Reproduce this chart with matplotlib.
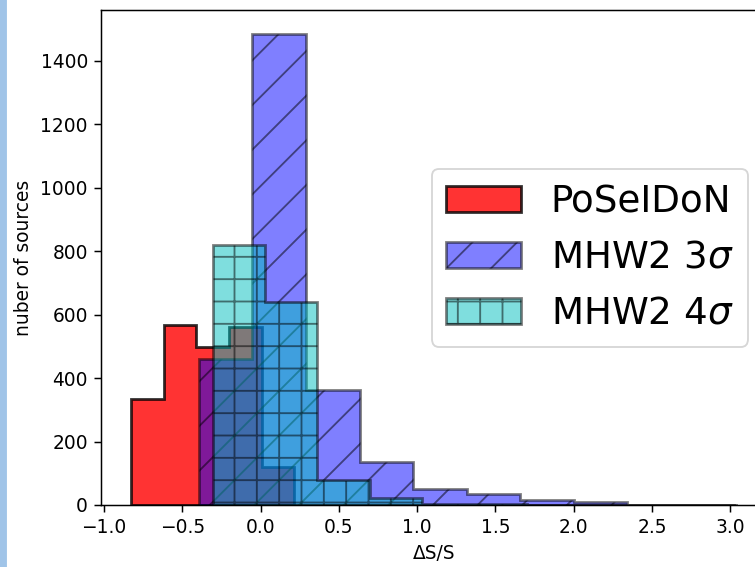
import numpy as np
import matplotlib
matplotlib.use("Agg")
import matplotlib.pyplot as plt
from matplotlib.patches import Rectangle

# bin edges and counts
poseidon_edges = [-0.825, -0.617, -0.409, -0.201, 0.007, 0.215]
poseidon_counts = [335, 568, 497, 560, 119]

mhw3_edges = [-0.394, -0.052, 0.290, 0.632, 0.974, 1.316, 1.658, 2.000, 2.342, 2.684, 3.026]
mhw3_counts = [460, 1485, 362, 137, 50, 35, 15, 11, 1, 1]

mhw4_edges = [-0.306, 0.029, 0.363, 0.698, 1.032, 1.367, 1.702, 2.036, 2.371, 2.705, 3.040]
mhw4_counts = [820, 641, 80, 21, 3, 2, 1, 1, 0, 1]

dpi = 134
fig = plt.figure(figsize=(755 / dpi, 567 / dpi), dpi=dpi)
ax = fig.add_axes([101 / 755, 62 / 567, 666 / 755, 495 / 567])

# light blue strip at the left border of the screenshot
fig.patches.append(Rectangle((0, 0), 6 / 755, 1, transform=fig.transFigure,
                             color='#a0c4e8', zorder=-1))

ax.hist(poseidon_edges[:-1], bins=poseidon_edges, weights=poseidon_counts,
        histtype='stepfilled', color='red', alpha=0.8, edgecolor='black',
        linewidth=1.5, label='PoSeIDoN')
ax.hist(mhw3_edges[:-1], bins=mhw3_edges, weights=mhw3_counts,
        histtype='stepfilled', color='blue', alpha=0.5, edgecolor='black',
        linewidth=1.5, hatch='/', label=r'MHW2 3$\sigma$')
ax.hist(mhw4_edges[:-1], bins=mhw4_edges, weights=mhw4_counts,
        histtype='stepfilled', color='c', alpha=0.5, edgecolor='black',
        linewidth=1.5, hatch='+', label=r'MHW2 4$\sigma$')

ax.set_xlabel('ΔS/S')
ax.set_ylabel('nuber of sources')
ax.legend(loc='center right', fontsize=20)

fig.savefig('out.png', dpi=dpi)
